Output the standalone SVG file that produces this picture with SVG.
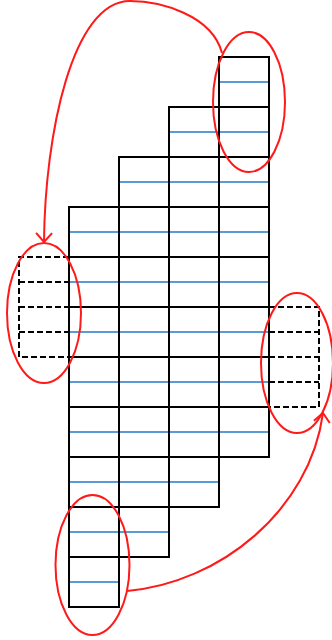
<svg xmlns="http://www.w3.org/2000/svg" width="332" height="640" viewBox="0 0 332 640">
<style>
.cell{fill:none;stroke:#000;stroke-width:2}
.mid{stroke:#5b9bd5;stroke-width:2}
.dash{fill:none;stroke:#000;stroke-width:2;stroke-dasharray:6,3}
.ell{fill:none;stroke:#ff1a1a;stroke-width:2}
.arc{fill:none;stroke:#ff1a1a;stroke-width:2}
</style>
<defs>
<marker id="ah" markerWidth="20" markerHeight="20" refX="10" refY="10" orient="auto" markerUnits="userSpaceOnUse">
<path d="M1,2 L10,10 L1,18" fill="none" stroke="#ff1a1a" stroke-width="2"/>
</marker>
</defs>
<rect width="332" height="640" fill="#fff"/>
<g id="col1">
<path class="mid" d="M69,232H119M69,282H119M69,332H119M69,382H119M69,432H119M69,482H119M69,532H119M69,582H119"/>
<rect class="cell" x="69" y="207" width="50" height="400"/>
<path class="cell" d="M69,257H119M69,307H119M69,357H119M69,407H119M69,457H119M69,507H119M69,557H119"/>
</g>
<g id="col2">
<path class="mid" d="M119,182H169M119,232H169M119,282H169M119,332H169M119,382H169M119,432H169M119,482H169M119,532H169"/>
<rect class="cell" x="119" y="157" width="50" height="400"/>
<path class="cell" d="M119,207H169M119,257H169M119,307H169M119,357H169M119,407H169M119,457H169M119,507H169"/>
</g>
<g id="col3">
<path class="mid" d="M169,132H219M169,182H219M169,232H219M169,282H219M169,332H219M169,382H219M169,432H219M169,482H219"/>
<rect class="cell" x="169" y="107" width="50" height="400"/>
<path class="cell" d="M169,157H219M169,207H219M169,257H219M169,307H219M169,357H219M169,407H219M169,457H219"/>
</g>
<g id="col4">
<path class="mid" d="M219,82H269M219,132H269M219,182H269M219,232H269M219,282H269M219,332H269M219,382H269M219,432H269"/>
<rect class="cell" x="219" y="57" width="50" height="400"/>
<path class="cell" d="M219,107H269M219,157H269M219,207H269M219,257H269M219,307H269M219,357H269M219,407H269"/>
</g>
<g id="left-dashed">
<path class="dash" d="M69,257H19V357H69M19,282H69M19,307H69M19,332H69"/>
</g>
<g id="right-dashed">
<path class="dash" d="M269,307H319V407H269M269,332H319M269,357H319M269,382H319"/>
</g>
<g id="top-ellipse"><ellipse class="ell" cx="249" cy="102" rx="36" ry="70"/></g>
<g id="left-ellipse"><ellipse class="ell" cx="44" cy="313" rx="37" ry="70"/></g>
<g id="right-ellipse"><ellipse class="ell" cx="297" cy="363" rx="36" ry="70"/></g>
<g id="bottom-ellipse"><ellipse class="ell" cx="92.5" cy="565" rx="37" ry="70"/></g>
<g id="connectors">
<path class="arc" d="M222,53 C212,15 160,1 130,1 C72,1 45,135 44,242" marker-end="url(#ah)"/>
<path class="arc" d="M127,591 C220,583 310,510 323,413" marker-end="url(#ah)"/>
</g>
</svg>
